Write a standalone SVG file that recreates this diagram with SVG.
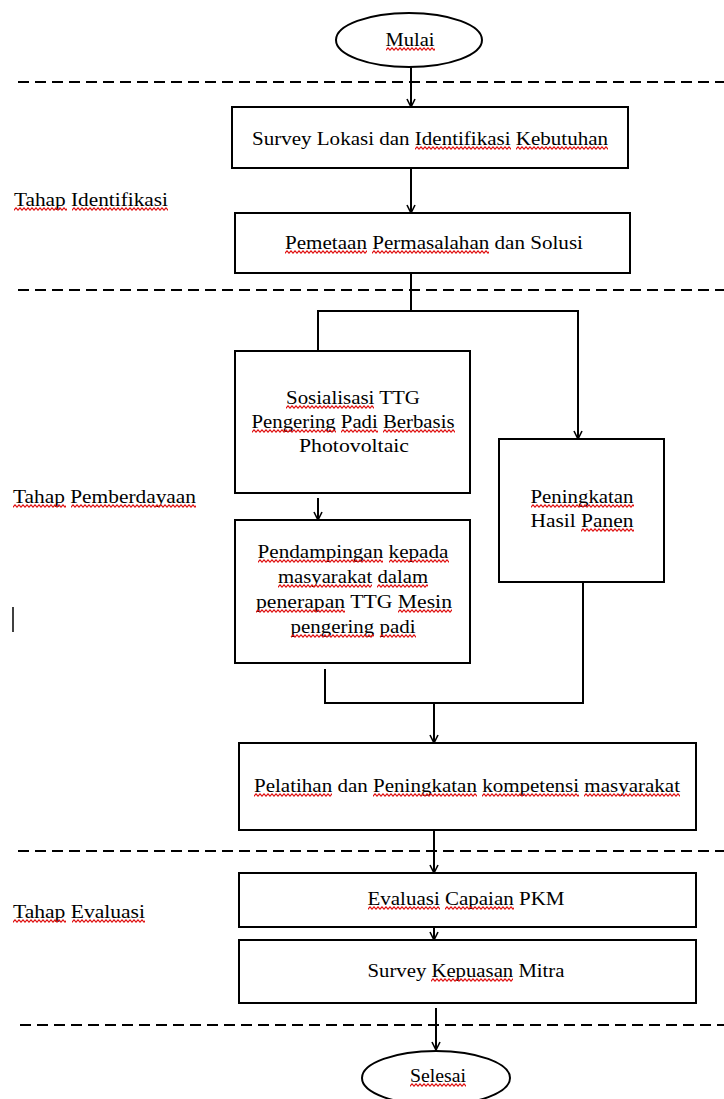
<svg xmlns="http://www.w3.org/2000/svg" width="724" height="1099" viewBox="0 0 724 1099">
<style>
.box{fill:#fff;stroke:#000;stroke-width:2}
.t{font-family:"Liberation Serif","Times New Roman",serif;font-size:18px;fill:#000;text-anchor:middle}
.lbl{font-family:"Liberation Serif","Times New Roman",serif;font-size:18px;fill:#000}
.dash{stroke:#000;stroke-width:2;stroke-dasharray:11 6;fill:none}
.c{stroke:#000;stroke-width:2;fill:none}
.ca{stroke:#000;stroke-width:2;fill:none;marker-end:url(#ah)}
.sq{fill:url(#wv);stroke:none}
</style>
<defs>
<marker id="ah" viewBox="0 0 10 10" refX="9" refY="5" markerWidth="10" markerHeight="10" markerUnits="userSpaceOnUse" orient="auto">
<path d="M1,1 L9,5 L1,9" fill="none" stroke="#000" stroke-width="1.6"/>
</marker>
<pattern id="wv" x="0" y="0" width="4" height="4" patternUnits="userSpaceOnUse">
<path d="M-2,1 L0,3.2 L2,0.8 L4,3.2 L6,0.8" fill="none" stroke="#e01010" stroke-width="1.1"/>
</pattern>
</defs>
<rect width="724" height="1099" fill="#fff"/>
<g id="dividers">
<line class="dash" x1="18" y1="82" x2="724" y2="82"/>
<line class="dash" x1="18" y1="290" x2="724" y2="290"/>
<line class="dash" x1="18" y1="851" x2="724" y2="851"/>
<line class="dash" x1="20" y1="1025" x2="724" y2="1025"/>
</g>
<g id="labels">
<text class="lbl" x="14" y="206" textLength="154" lengthAdjust="spacingAndGlyphs"><tspan>Tahap</tspan> <tspan>Identifikasi</tspan></text>
<text class="lbl" x="13" y="503" textLength="183" lengthAdjust="spacingAndGlyphs"><tspan>Tahap</tspan> <tspan>Pemberdayaan</tspan></text>
<text class="lbl" x="13" y="918" textLength="132" lengthAdjust="spacingAndGlyphs"><tspan>Tahap</tspan> <tspan>Evaluasi</tspan></text>
<line x1="13" y1="607" x2="13" y2="632" stroke="#000" stroke-width="1.5"/>
</g>
<g id="connectors">
<line class="ca" x1="411" y1="67" x2="411" y2="107"/>
<line class="ca" x1="411" y1="168" x2="411" y2="213"/>
<polyline class="c" points="411,273 411,311"/>
<polyline class="ca" points="318,351 318,311 578,311 578,439"/>
<line class="ca" x1="318" y1="498" x2="318" y2="520"/>
<polyline class="c" points="325,669 325,703 583,703 583,567"/>
<line class="ca" x1="434" y1="703" x2="434" y2="743"/>
<line class="ca" x1="434" y1="830" x2="434" y2="873"/>
<line class="ca" x1="434" y1="905" x2="434" y2="940"/>
<line class="ca" x1="436" y1="1008" x2="436" y2="1050"/>
</g>
<g id="mulai">
<ellipse class="box" cx="409" cy="40" rx="73" ry="27"/>
<text class="t" x="410" y="46" textLength="49" lengthAdjust="spacingAndGlyphs"><tspan>Mulai</tspan></text>
</g>
<g id="survey-lokasi">
<rect class="box" x="232" y="107" width="396" height="61"/>
<text class="t" x="430" y="145" textLength="356" lengthAdjust="spacingAndGlyphs">Survey Lokasi dan <tspan>Identifikasi</tspan> <tspan>Kebutuhan</tspan></text>
</g>
<g id="pemetaan">
<rect class="box" x="235" y="213" width="395" height="60"/>
<text class="t" x="434" y="249" textLength="298" lengthAdjust="spacingAndGlyphs"><tspan>Pemetaan</tspan> <tspan>Permasalahan</tspan> dan Solusi</text>
</g>
<g id="sosialisasi">
<rect class="box" x="235" y="351" width="235" height="142"/>
<text class="t" x="353" y="404" textLength="134" lengthAdjust="spacingAndGlyphs"><tspan>Sosialisasi</tspan> TTG</text>
<text class="t" x="353" y="428" textLength="203" lengthAdjust="spacingAndGlyphs"><tspan>Pengering</tspan> <tspan>Padi</tspan> <tspan>Berbasis</tspan></text>
<text class="t" x="354" y="452" textLength="110" lengthAdjust="spacingAndGlyphs">Photovoltaic</text>
</g>
<g id="peningkatan-hasil">
<rect class="box" x="499" y="439" width="165" height="143"/>
<text class="t" x="582" y="503" textLength="103" lengthAdjust="spacingAndGlyphs"><tspan>Peningkatan</tspan></text>
<text class="t" x="582" y="527" textLength="103" lengthAdjust="spacingAndGlyphs">Hasil <tspan>Panen</tspan></text>
</g>
<g id="pendampingan">
<rect class="box" x="235" y="520" width="235" height="143"/>
<text class="t" x="353" y="558" textLength="191" lengthAdjust="spacingAndGlyphs"><tspan>Pendampingan</tspan> <tspan>kepada</tspan></text>
<text class="t" x="353" y="583" textLength="150" lengthAdjust="spacingAndGlyphs"><tspan>masyarakat</tspan> <tspan>dalam</tspan></text>
<text class="t" x="354" y="608" textLength="196" lengthAdjust="spacingAndGlyphs"><tspan>penerapan</tspan> TTG <tspan>Mesin</tspan></text>
<text class="t" x="353" y="633" textLength="125" lengthAdjust="spacingAndGlyphs"><tspan>pengering</tspan> <tspan>padi</tspan></text>
</g>
<g id="pelatihan">
<rect class="box" x="239" y="743" width="457" height="87"/>
<text class="t" x="467" y="792" textLength="426" lengthAdjust="spacingAndGlyphs"><tspan>Pelatihan</tspan> dan <tspan>Peningkatan</tspan> <tspan>kompetensi</tspan> <tspan>masyarakat</tspan></text>
</g>
<g id="evaluasi">
<rect class="box" x="239" y="873" width="457" height="54"/>
<text class="t" x="466" y="905" textLength="197" lengthAdjust="spacingAndGlyphs"><tspan>Evaluasi</tspan> <tspan>Capaian</tspan> PKM</text>
</g>
<g id="survey-kepuasan">
<rect class="box" x="239" y="940" width="457" height="63"/>
<text class="t" x="466" y="977" textLength="197" lengthAdjust="spacingAndGlyphs">Survey <tspan>Kepuasan</tspan> Mitra</text>
</g>
<g id="selesai">
<ellipse class="box" cx="436" cy="1078" rx="74" ry="27"/>
<text class="t" x="438" y="1082" textLength="56" lengthAdjust="spacingAndGlyphs"><tspan>Selesai</tspan></text>
</g>
<g id="spellcheck-marks">
<rect class="sq" transform="translate(14,207)" width="53" height="4"/>
<rect class="sq" transform="translate(72,207)" width="96" height="4"/>
<rect class="sq" transform="translate(13,504)" width="53" height="4"/>
<rect class="sq" transform="translate(71,504)" width="125" height="4"/>
<rect class="sq" transform="translate(13,919)" width="53" height="4"/>
<rect class="sq" transform="translate(72,919)" width="73" height="4"/>
<rect class="sq" transform="translate(386,47)" width="49" height="4"/>
<rect class="sq" transform="translate(415,146)" width="96" height="4"/>
<rect class="sq" transform="translate(516,146)" width="92" height="4"/>
<rect class="sq" transform="translate(285,250)" width="82" height="4"/>
<rect class="sq" transform="translate(372,250)" width="117" height="4"/>
<rect class="sq" transform="translate(286,405)" width="88" height="4"/>
<rect class="sq" transform="translate(252,429)" width="84" height="4"/>
<rect class="sq" transform="translate(341,429)" width="37" height="4"/>
<rect class="sq" transform="translate(383,429)" width="72" height="4"/>
<rect class="sq" transform="translate(531,504)" width="103" height="4"/>
<rect class="sq" transform="translate(581,528)" width="53" height="4"/>
<rect class="sq" transform="translate(258,559)" width="125" height="4"/>
<rect class="sq" transform="translate(389,559)" width="60" height="4"/>
<rect class="sq" transform="translate(278,584)" width="94" height="4"/>
<rect class="sq" transform="translate(377,584)" width="51" height="4"/>
<rect class="sq" transform="translate(256,609)" width="89" height="4"/>
<rect class="sq" transform="translate(398,609)" width="54" height="4"/>
<rect class="sq" transform="translate(291,634)" width="83" height="4"/>
<rect class="sq" transform="translate(380,634)" width="36" height="4"/>
<rect class="sq" transform="translate(254,793)" width="78" height="4"/>
<rect class="sq" transform="translate(373,793)" width="104" height="4"/>
<rect class="sq" transform="translate(482,793)" width="97" height="4"/>
<rect class="sq" transform="translate(584,793)" width="96" height="4"/>
<rect class="sq" transform="translate(368,906)" width="72" height="4"/>
<rect class="sq" transform="translate(445,906)" width="69" height="4"/>
<rect class="sq" transform="translate(431,978)" width="82" height="4"/>
<rect class="sq" transform="translate(410,1083)" width="56" height="4"/>
</g>
</svg>
